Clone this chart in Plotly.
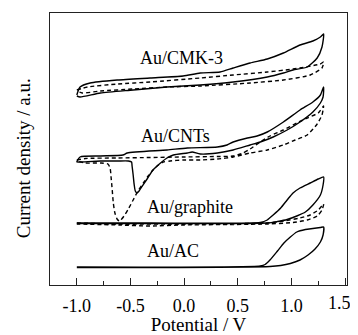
import plotly.graph_objects as go

# ---- data (potential in V, current density in arbitrary units) ----
cmk3_solid_E = [-1.0, -0.97, -0.876, -0.62, -0.317, -0.01, 0.15, 0.335, 0.457, 0.615, 0.775, 0.925, 1.08, 1.20, 1.27, 1.30,
                1.285, 1.24, 1.147, 1.015, 0.925, 0.775, 0.457, 0.15, -0.16, -0.475, -0.78, -0.97, -1.0]
cmk3_solid_I = [190, 198, 202, 205, 207, 209, 212, 213, 217, 222, 226, 232, 240, 244, 248, 251,
                238, 227, 218, 215, 212, 208, 203, 200, 198, 195, 192, 188, 189]
cmk3_dash_E = [-1.0, -0.90, -0.62, -0.317, 0.15, 0.457, 0.775, 1.015, 1.27, 1.30,
               1.285, 1.175, 0.925, 0.615, 0.15, -0.16, -0.475, -0.78, -0.95, -1.0]
cmk3_dash_I = [195, 198, 201, 203, 207, 210, 213, 216, 221, 223,
               217, 210, 205, 202, 199, 198, 196, 194, 192, 194]

cnt_solid_E = [-1.0, -0.97, -0.78, -0.57, -0.53, -0.16, 0.03, 0.31, 0.40, 0.457, 0.59, 0.68, 0.775, 0.925, 1.08, 1.20, 1.27, 1.30,
               1.295, 1.27, 1.20, 1.08, 0.96, 0.83, 0.71, 0.615, 0.457, 0.31, 0.15, 0.075, 0.03, -0.10, -0.16, -0.22, -0.29,
               -0.345, -0.39, -0.42, -0.44, -0.455, -0.465, -0.475, -0.485, -0.49, -0.52, -0.62, -0.78, -0.97, -1.0]
cnt_solid_I = [123, 128, 129, 130, 132, 135, 137, 138, 140, 143, 147, 149, 153, 163, 175, 183, 190, 198,
               188, 182, 173, 163, 155, 148, 143, 140, 135, 132, 131, 133, 132, 130, 127, 122, 115,
               106, 99, 94, 92, 94, 100, 110, 119, 123, 124, 124, 124, 123, 123]
cnt_dash_E = [-1.0, -0.92, -0.62, -0.317, -0.01, 0.31, 0.457, 0.55, 0.615, 0.71, 0.80, 0.925, 1.05, 1.147, 1.25, 1.30,
              1.295, 1.285, 1.24, 1.147, 1.035, 0.925, 0.775, 0.615, 0.457, 0.31, 0.15, -0.01, -0.13, -0.195, -0.24, -0.29,
              -0.335, -0.38, -0.43, -0.475, -0.52, -0.56, -0.59, -0.605, -0.625, -0.645, -0.66, -0.67, -0.68, -0.69,
              -0.71, -0.78, -0.92, -1.0]
cnt_dash_I = [125, 126.5, 127, 127.5, 128, 128.5, 129, 132, 136, 143, 149, 155, 162, 167, 172, 179,
              175, 170, 161, 150, 145, 140, 135, 132, 128, 126, 125, 125, 124, 123, 120, 115,
              109, 102, 94, 85, 76, 69, 65, 64, 66, 72, 82, 95, 107, 117,
              121, 122, 122, 124]

gra_solid_E = [-1.0, -0.317, 0.71, 0.775, 0.83, 0.90, 0.96, 1.015, 1.08, 1.175, 1.25, 1.30,
               1.295, 1.27, 1.20, 1.13, 1.05, 0.96, 0.87, 0.775, -0.317, -1.0]
gra_solid_I = [62, 62, 62.5, 65, 70, 77, 85, 92, 97, 102, 106, 108,
               100, 90, 80, 73, 69, 65.5, 63.5, 62, 61.5, 61.5]
gra_dash_E = [-1.0, -0.62, -0.01, 0.775, 0.925, 1.08, 1.175, 1.25, 1.30,
              1.285, 1.24, 1.147, 1.015, 0.775, -0.01, -0.317, -0.6, -1.0]
gra_dash_I = [62, 61, 61, 62, 64, 67, 70, 75, 81,
              75, 69, 65, 62.5, 61, 60, 59, 60, 61]

ac_solid_E = [-1.0, 0.71, 0.755, 0.80, 0.87, 0.93, 0.99, 1.05, 1.13, 1.20, 1.27, 1.30,
              1.295, 1.27, 1.22, 1.155, 1.08, 0.99, 0.90, 0.80, -0.317, -1.0]
ac_solid_I = [18, 19, 20.5, 25, 34, 42, 48, 53, 55.5, 56.5, 57.5, 58,
              50, 43, 36, 30, 25, 21.5, 19.5, 18.5, 17.5, 17.5]

labels = ["Au/CMK-3", "Au/CNTs", "Au/graphite", "Au/AC"]
label_E = [-0.028, -0.084, 0.056, -0.10]
label_I = [227.5, 149, 78, 34]

x_ticks = [-1.0, -0.5, 0.0, 0.5, 1.0, 1.5]
x_tick_text = ["-1.0", "-0.5", "0.0", "0.5", "1.0", ""]
last_tick_label = "1.5"

FONT = "Liberation Serif"
fig = go.Figure()

solid = dict(color="black", width=1.4)
dashed = dict(color="black", width=1.4, dash="4px,3px")
for E, I, ln in [
    (cmk3_solid_E, cmk3_solid_I, solid), (cmk3_dash_E, cmk3_dash_I, dashed),
    (cnt_solid_E, cnt_solid_I, solid), (cnt_dash_E, cnt_dash_I, dashed),
    (gra_solid_E, gra_solid_I, solid), (gra_dash_E, gra_dash_I, dashed),
    (ac_solid_E, ac_solid_I, solid),
]:
    fig.add_trace(go.Scatter(x=E, y=I, mode="lines", line=dict(ln, shape="spline", smoothing=0.6),
                             showlegend=False, hoverinfo="skip"))

for t, xe, yi in zip(labels, label_E, label_I):
    fig.add_annotation(x=xe, y=yi, text=t, showarrow=False, xanchor="center", yanchor="middle",
                       font=dict(family=FONT, size=18, color="black"))

# last tick label, nudged left so it stays inside the page (as in the original)
fig.add_annotation(x=1.5, xref="x", yref="paper", y=0, yshift=-18, xshift=-6, text=last_tick_label,
                   showarrow=False, xanchor="center", yanchor="middle",
                   font=dict(family=FONT, size=18, color="black"))

fig.add_annotation(xref="paper", yref="paper", x=-0.091, y=0.466, text="Current density / a.u.",
                   textangle=-90, showarrow=False, xanchor="center", yanchor="middle",
                   font=dict(family=FONT, size=19, color="black"))

# page body has an 8px default margin, so the figure is sized/offset to compensate
fig.update_layout(
    template="none",
    width=350, height=327,
    margin=dict(l=42, r=11, t=5, b=50, autoexpand=False),
    paper_bgcolor="white", plot_bgcolor="white",
    font=dict(family=FONT, size=18, color="black"),
    xaxis=dict(range=[-1.25, 1.518], tickvals=x_ticks, ticktext=x_tick_text, automargin=False,
               ticks="inside", ticklen=7, tickwidth=1, tickcolor="#222",
               minor=dict(ticks="inside", ticklen=4, tickwidth=1, tickcolor="#222", dtick=0.25, tick0=-1.0,
                          showgrid=False),
               showline=True, linecolor="#222", linewidth=1.3, mirror=True,
               showgrid=False, zeroline=False, ticklabelstandoff=4,
               title=dict(text="Potential / V", font=dict(family=FONT, size=19), standoff=4),
               tickfont=dict(family=FONT, size=18)),
    yaxis=dict(range=[0, 272], showticklabels=False, ticks="", automargin=False,
               showline=True, linecolor="#222", linewidth=1.3, mirror=True,
               showgrid=False, zeroline=False),
)

fig.write_html("out.html")
